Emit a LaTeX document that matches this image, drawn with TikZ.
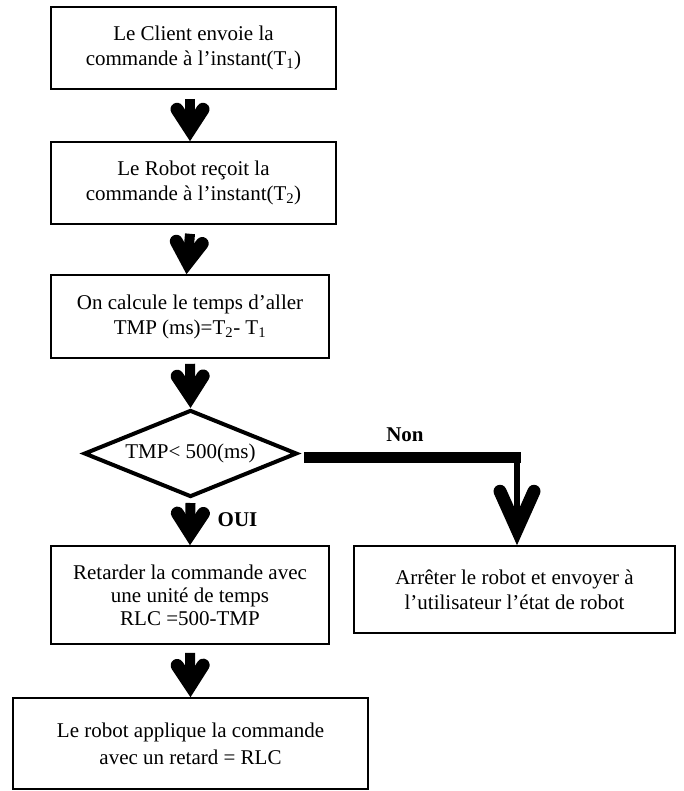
\documentclass[tikz,border=0pt]{standalone}
\usepackage{fontspec}
\setmainfont{Liberation Serif}
\usetikzlibrary{arrows.meta,shapes.geometric}
\begin{document}
\begin{tikzpicture}[x=1pt,y=-1pt,
  box/.style={draw, line width=1.6pt, rectangle, align=center, inner sep=0pt,
    font=\fontsize{21}{25}\selectfont},
  dec/.style={diamond, aspect=2.45, draw, line width=4pt, line join=miter, inner sep=0pt,
    minimum width=213pt, minimum height=87pt, font=\fontsize{21}{25}\selectfont},
  fat/.style={line width=10pt,
    -{Straight Barb[length=20pt,width=26pt,line width=13pt,line cap=round,line join=miter]}},
  lbl/.style={font=\fontsize{21}{25}\selectfont\bfseries, inner sep=0pt}
]
\useasboundingbox (0,0) rectangle (683,791);
\node[box, minimum width=285pt, minimum height=82pt] (b1) at (193.5,48)
  {Le Client envoie la\\commande à l’instant(T\textsubscript{1})};
\node[box, minimum width=285pt, minimum height=82pt] (b2) at (193.5,183)
  {Le Robot reçoit la\\commande à l’instant(T\textsubscript{2})};
\node[box, minimum width=278pt, minimum height=83pt] (b3) at (190,316.5)
  {On calcule le temps d’aller\\TMP (ms)=T\textsubscript{2}- T\textsubscript{1}};
\node[dec] (d) at (190.5,453.5) {TMP< 500(ms)};
\node[box, minimum width=278pt, minimum height=98pt,
  font=\fontsize{21}{23}\selectfont] (b4) at (190,595)
  {Retarder la commande avec\\une unité de temps\\RLC =500-TMP};
\node[box, minimum width=321pt, minimum height=87pt] (b6) at (514.5,589.5)
  {Arrêter le robot et envoyer à\\l’utilisateur l’état de robot};
\node[box, minimum width=355pt, minimum height=91pt,
  font=\fontsize{21}{27}\selectfont] (b5) at (190.5,743.5)
  {Le robot applique la commande\\avec un retard = RLC};

\node[lbl] (non) at (405,435) {Non};
\node[lbl] (oui) at (237.5,520) {OUI};

% vertical flow arrows
\draw[fat] ([xshift=-3.5pt,yshift=-9pt]b1.south) -- ([xshift=-3.5pt]b2.north);
\draw[fat] ([xshift=-3.5pt,yshift=-9pt]b2.south) -- ([xshift=-3.5pt]b3.north);
\draw[fat] ([yshift=-5pt]b3.south) -- (d.north);
\draw[fat] ([yshift=-4pt]d.south) -- (b4.north);
\draw[fat] ([yshift=-8pt]b4.south) -- (b5.north);

% Non branch
\coordinate (c) at (517,457.5);
\path ([xshift=5pt]d.east) coordinate (h0);
\draw[line width=11pt] (h0 |- c) -- ([xshift=4pt]c);
\draw[line width=6pt,
  -{Straight Barb[length=38pt,width=34pt,line width=13pt,line cap=round,line join=miter]}]
  ([yshift=-5.5pt]c) -- (c |- b6.north);
\end{tikzpicture}
\end{document}
